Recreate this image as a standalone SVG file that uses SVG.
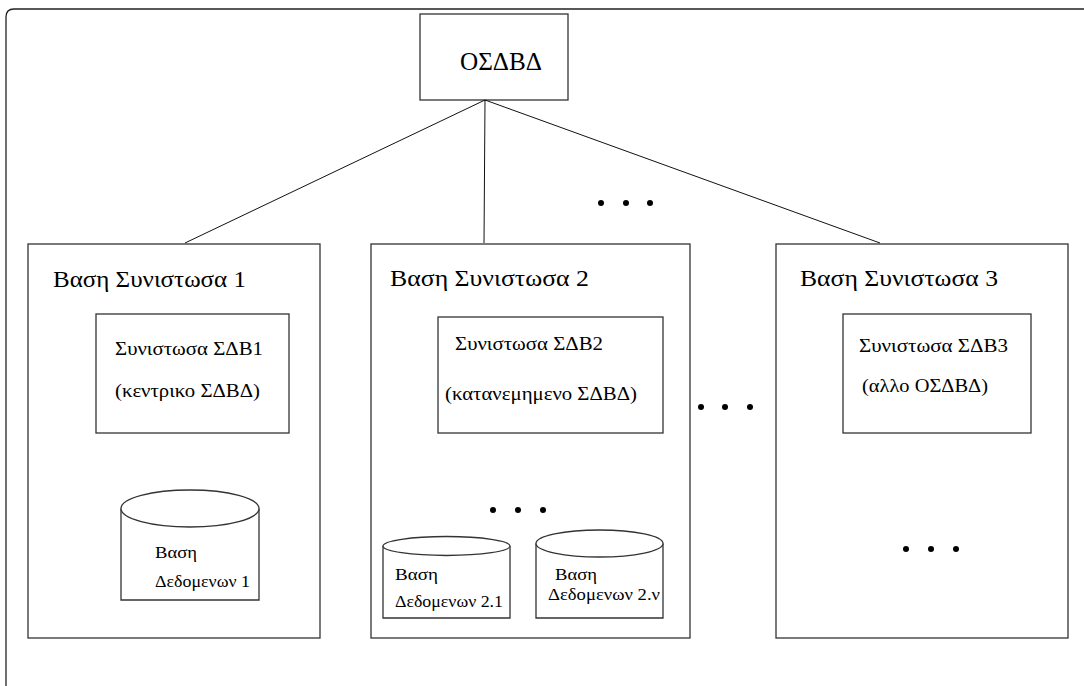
<svg xmlns="http://www.w3.org/2000/svg" width="1084" height="686" viewBox="0 0 1084 686">
<style>
.box{fill:#fff;stroke:#333;stroke-width:1.3}
.ln{fill:none;stroke:#111;stroke-width:1}
.t{font-family:"Liberation Serif","DejaVu Serif","Times New Roman",serif;fill:#000}
.h{font-size:23px}
.m{font-size:18.5px}
.s{font-size:17px}
.dot{fill:#000}
</style>
<rect width="1084" height="686" fill="#fff"/>
<path d="M6,686 V17 Q6,9 14,9 H1084" fill="none" stroke="#222" stroke-width="1.3"/>
<g id="osdbd">
<rect class="box" x="420" y="14" width="148" height="86"/>
<text class="t" x="460" y="70" font-size="25" textLength="82" lengthAdjust="spacingAndGlyphs">ΟΣΔΒΔ</text>
</g>
<g id="connectors">
<line class="ln" x1="485" y1="100" x2="185" y2="243"/>
<line class="ln" x1="485" y1="100" x2="484" y2="243"/>
<line class="ln" x1="485" y1="100" x2="880" y2="243"/>
<line class="ln" x1="184" y1="433" x2="184" y2="513"/>
<line class="ln" x1="513" y1="433" x2="427" y2="545"/>
<line class="ln" x1="513" y1="433" x2="590" y2="537"/>
</g>
<g id="base1">
<rect class="box" x="28" y="244" width="292" height="394"/>
<text class="t h" x="53" y="287" textLength="193" lengthAdjust="spacingAndGlyphs">Βαση Συνιστωσα 1</text>
</g>
<g id="sdb1">
<rect class="box" x="96" y="314" width="193" height="119"/>
<text class="t m" x="115" y="355" textLength="148" lengthAdjust="spacingAndGlyphs">Συνιστωσα ΣΔΒ1</text>
<text class="t m" x="115" y="397" textLength="145" lengthAdjust="spacingAndGlyphs">(κεντρικο ΣΔΒΔ)</text>
</g>
<g id="db1">
<path class="box" d="M121,508.5 V600 H259 V508.5"/>
<ellipse class="box" cx="190" cy="508.5" rx="69" ry="18.5"/>
<text class="t s" x="155" y="558" textLength="42" lengthAdjust="spacingAndGlyphs">Βαση</text>
<text class="t s" x="155" y="587" textLength="95" lengthAdjust="spacingAndGlyphs">Δεδομενων 1</text>
</g>
<g id="base2">
<rect class="box" x="371" y="244" width="319" height="394"/>
<text class="t h" x="390" y="286" textLength="199" lengthAdjust="spacingAndGlyphs">Βαση Συνιστωσα  2</text>
</g>
<g id="sdb2">
<rect class="box" x="438" y="317" width="225" height="116"/>
<text class="t m" x="455" y="350" textLength="148" lengthAdjust="spacingAndGlyphs">Συνιστωσα ΣΔΒ2</text>
<text class="t m" x="445" y="400" textLength="192" lengthAdjust="spacingAndGlyphs">(κατανεμημενο ΣΔΒΔ)</text>
</g>
<g id="db21">
<path class="box" d="M383,546 V618 H510 V546"/>
<ellipse class="box" cx="446.5" cy="546" rx="63.5" ry="9.5"/>
<text class="t s" x="395" y="580" textLength="43" lengthAdjust="spacingAndGlyphs">Βαση</text>
<text class="t s" x="395" y="607" textLength="108" lengthAdjust="spacingAndGlyphs">Δεδομενων 2.1</text>
</g>
<g id="db2n">
<path class="box" d="M536,543.5 V618 H663 V543.5"/>
<ellipse class="box" cx="599.5" cy="543.5" rx="63.5" ry="13.5"/>
<text class="t s" x="555" y="580" textLength="42" lengthAdjust="spacingAndGlyphs">Βαση</text>
<text class="t s" x="548" y="600" textLength="112" lengthAdjust="spacingAndGlyphs">Δεδομενων 2.ν</text>
</g>
<g id="base3">
<rect class="box" x="776" y="244" width="292" height="394"/>
<text class="t h" x="800" y="286" textLength="198" lengthAdjust="spacingAndGlyphs">Βαση Συνιστωσα  3</text>
</g>
<g id="sdb3">
<rect class="box" x="843" y="314" width="188" height="119"/>
<text class="t m" x="859" y="352" textLength="149" lengthAdjust="spacingAndGlyphs">Συνιστωσα ΣΔΒ3</text>
<text class="t m" x="862" y="392" textLength="126" lengthAdjust="spacingAndGlyphs">(αλλο ΟΣΔΒΔ)</text>
</g>
<g id="dots">
<circle class="dot" cx="601" cy="203" r="3"/>
<circle class="dot" cx="626" cy="203" r="3"/>
<circle class="dot" cx="650" cy="203" r="3"/>
<circle class="dot" cx="701" cy="407" r="3"/>
<circle class="dot" cx="725" cy="407" r="3"/>
<circle class="dot" cx="750" cy="407" r="3"/>
<circle class="dot" cx="493" cy="510" r="3"/>
<circle class="dot" cx="518" cy="510" r="3"/>
<circle class="dot" cx="543" cy="510" r="3"/>
<circle class="dot" cx="906" cy="549" r="3"/>
<circle class="dot" cx="931" cy="549" r="3"/>
<circle class="dot" cx="956" cy="549" r="3"/>
</g>
</svg>
